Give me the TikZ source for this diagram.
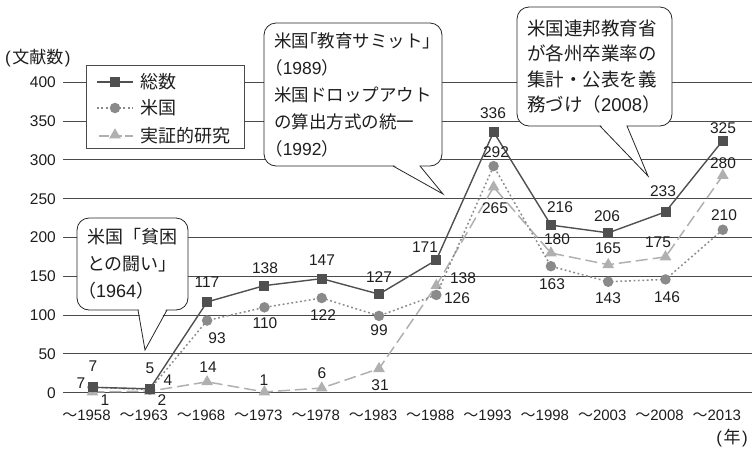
\documentclass[tikz,border=0pt]{standalone}
\usepackage{fontspec}
\setmainfont{Liberation Sans}
\newfontfamily\jp{Noto Sans CJK JP}
\newfontfamily\jph[RawFeature=+halt]{Noto Sans CJK JP}
\usetikzlibrary{shapes.geometric}
\definecolor{ctot}{HTML}{505050}
\definecolor{cus}{HTML}{8A8A8A}
\definecolor{cemp}{HTML}{B0B0B0}
\definecolor{cgrid}{HTML}{4A4A4A}
\definecolor{ctext}{HTML}{1E1E1E}
\newcommand\yrpar[1]{{\jph （}{\rmfamily #1}{\jph ）}}
\begin{document}
\begin{tikzpicture}[x=1pt,y=-1pt,
  grid/.style={draw=cgrid, line width=0.9pt},
  totline/.style={draw=ctot, line width=1.4pt},
  usline/.style={draw=cus, line width=1.5pt, dash pattern=on 1.8pt off 2.6pt},
  empline/.style={draw=cemp, line width=1.5pt, dash pattern=on 12pt off 5pt},
  sqmark/.style={rectangle, fill=ctot, minimum size=10pt, inner sep=0pt},
  cimark/.style={circle, fill=cus, minimum size=10.5pt, inner sep=0pt},
  trmark/.style={regular polygon, regular polygon sides=3, fill=cemp, minimum size=13.5pt, inner sep=0pt},
  num/.style={font=\fontsize{15.5}{18}\selectfont, inner sep=0pt, text=ctext},
  cat/.style={font=\fontsize{15}{18}\selectfont, inner sep=0pt, text=ctext},
  jtext/.style={font=\jp\fontsize{18}{27}\selectfont, inner sep=0pt, text=ctext},
  legbox/.style={draw=cgrid, line width=0.9pt, fill=white, inner sep=0pt},
  callbox/.style={draw=black!85, line width=0.8pt, fill=white, rounded corners=12pt,
    align=left, inner xsep=10pt, inner ysep=0pt, text=ctext},
  pointer/.style={draw=black!85, line width=0.8pt, line join=miter},
]
\useasboundingbox (0,0) rectangle (752,448);
% gridlines and y labels
\foreach \v in {0,50,...,400}{
  \draw[grid] (63,{392.7-0.776*\v}) -- (752,{392.7-0.776*\v});
  \node[num, anchor=east] (ylab\v) at (56,{392.7-0.776*\v}) {\v};
}
\node[anchor=west, inner sep=0pt, text=ctext, font=\fontsize{17}{20}\selectfont] (ytitle) at (5,58) {(\hspace{1.5pt}{\jp 文献数}\hspace{1.5pt})};
\node[anchor=east, inner sep=0pt, text=ctext, font=\fontsize{17}{20}\selectfont] (xtitle) at (748,438) {(\hspace{1.5pt}{\jp 年}\hspace{1.5pt})};
% category labels
\foreach \yr [count=\i] in {1958,1963,1968,1973,1978,1983,1988,1993,1998,2003,2008,2013}{
  \node[cat] (cat\i) at ({92.5+57.3*(\i-1)+1.5},415.5) {\llap{\jp 〜}\yr};
}
% data coordinates
\foreach \v [count=\i] in {7,5,117,138,147,127,171,336,216,206,233,325}
  \coordinate (t\i) at ({92.5+57.3*(\i-1)},{392.7-0.776*\v});
\foreach \v [count=\i] in {7,4,93,110,122,99,126,292,163,143,146,210}
  \coordinate (u\i) at ({92.5+57.3*(\i-1)},{392.7-0.776*\v});
\foreach \v [count=\i] in {1,2,14,1,6,31,138,265,180,165,175,280}
  \coordinate (e\i) at ({92.5+57.3*(\i-1)},{392.7-0.776*\v});
% series
\draw[empline] (e1) \foreach \i in {2,...,12}{ -- (e\i)};
\foreach \i in {1,...,12} \node[trmark] (em\i) at (e\i) {};
\draw[usline] (u1) \foreach \i in {2,...,12}{ -- (u\i)};
\foreach \i in {1,...,12} \node[cimark] (um\i) at (u\i) {};
\draw[totline] (t1) \foreach \i in {2,...,12}{ -- (t\i)};
\foreach \i in {1,...,12} \node[sqmark] (tm\i) at (t\i) {};
% data labels
\foreach \txt/\x/\y [count=\i] in {7/93/366,5/150/368,117/207/282,138/265/268,147/322/260,127/379/277,171/425/247,336/493/113,216/560/207,206/607/216,233/663/191,325/723/128}
  \node[num] (tl\i) at (\x,\y) {\txt};
\foreach \txt/\x/\y [count=\i] in {7/81/383,4/168/380,93/217/338,110/265/323,122/323/315,99/379/330,126/457/298,292/496/152,163/552/284,143/608/298,146/667/297,210/724/215}
  \node[num] (ul\i) at (\x,\y) {\txt};
\foreach \txt/\x/\y [count=\i] in {1/105/400,2/162/400,14/208/367,1/264/380,6/322/373,31/380/385,138/463/278,265/495/208,180/557/239,165/608/248,175/658/242,280/723/163}
  \node[num] (el\i) at (\x,\y) {\txt};
% legend
\node[legbox, minimum width=158pt, minimum height=83pt] (leg) at (165,106.5) {};
\coordinate (la1) at (97,82); \coordinate (lb1) at (133,82);
\coordinate (la2) at (97,108); \coordinate (lb2) at (133,108);
\coordinate (la3) at (97,136); \coordinate (lb3) at (133,136);
\draw[totline] (la1) -- (lb1);
\node[sqmark] (lm1) at (115,82) {};
\draw[usline] (la2) -- (lb2);
\node[cimark] (lm2) at (115,108) {};
\draw[empline, dash pattern=on 10pt off 3pt, dash phase=-2pt] (la3) -- (lb3);
\node[trmark] (lm3) at (115,135) {};
\node[jtext, anchor=west] (lt1) at (140,82) {総数};
\node[jtext, anchor=west] (lt2) at (140,108) {米国};
\node[jtext, anchor=west] (lt3) at (140,136) {実証的研究};
% callout 1
\node[callbox, font=\jp\fontsize{18}{27}\selectfont, text width=91pt, minimum height=92pt] (c1) at (132.5,264) {米国「貧困\\との闘い」\\\yrpar{1964}};
\coordinate (c1tip) at (145,350);
\coordinate (c1a) at (138,310); \coordinate (c1b) at (167,310);
\fill[white] (139,309) -- (c1tip) -- (166,309) -- cycle;
\draw[pointer] (c1a) -- (c1tip) -- (c1b);
% callout 2
\node[callbox, font=\jp\fontsize{17.5}{27}\selectfont, text width=158pt, minimum height=143pt] (c2) at (353,94.5) {米国{\jph「}教育サミット{\jph」}\\\yrpar{1989}\\米国ドロップアウト\\の算出方式の統一\\\yrpar{1992}};
\coordinate (c2tip) at (443,194);
\coordinate (c2a) at (393,166); \coordinate (c2b) at (420,166);
\fill[white] (394,165) -- (c2tip) -- (419,165) -- cycle;
\draw[pointer] (c2a) -- (c2tip) -- (c2b);
% callout 3
\node[callbox, font=\jp\fontsize{18.5}{25.5}\selectfont, text width=135pt, minimum height=119pt] (c3) at (594.5,66.5) {米国連邦教育省\\が各州卒業率の\\集計・公表を義\\務づけ（{\rmfamily 2008}{\jph ）}};
\coordinate (c3tip) at (648,176);
\coordinate (c3a) at (600,126); \coordinate (c3b) at (627,126);
\fill[white] (601,125) -- (c3tip) -- (626,125) -- cycle;
\draw[pointer] (c3a) -- (c3tip) -- (c3b);
\end{tikzpicture}
\end{document}
